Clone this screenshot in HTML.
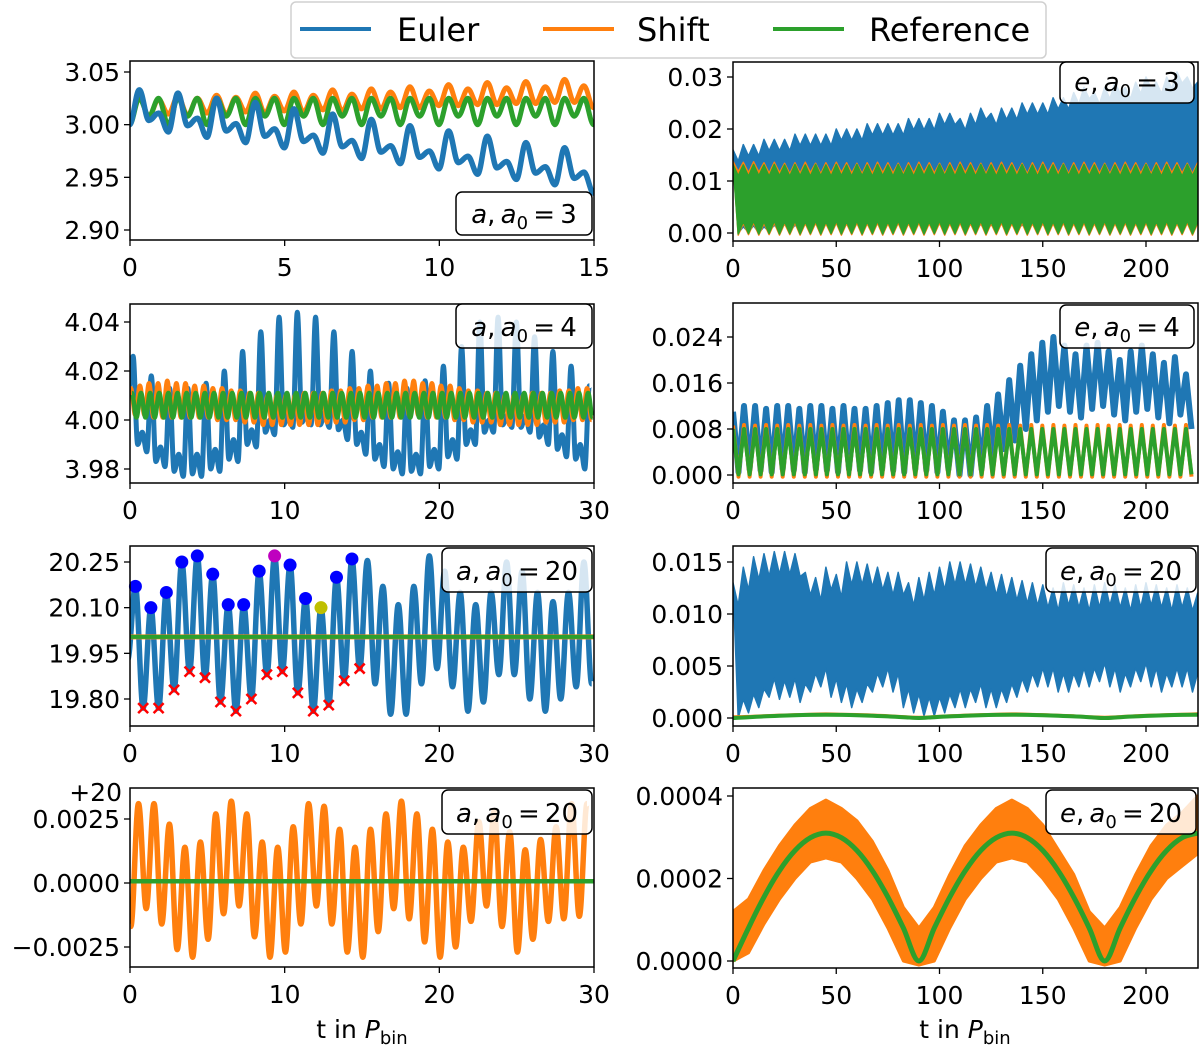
<!DOCTYPE html>
<html><head><meta charset="utf-8">
<style>
html,body{margin:0;padding:0;background:#fff;}
svg text{font-family:"DejaVu Sans","Liberation Sans",sans-serif;fill:#000;}
</style></head>
<body>
<svg id="fig" width="1200" height="1046" viewBox="0 0 1200 1046" xmlns="http://www.w3.org/2000/svg"></svg>
<script>
// ---------- DATA ----------
const C_EULER = '#1f77b4', C_SHIFT = '#ff7f0e', C_REF = '#2ca02c';
const l1Euler = [3.000,3.033,3.004,3.011,2.993,3.030,2.999,3.006,2.988,3.025,2.994,3.001,2.983,3.021,2.989,2.996,2.978,3.015,2.984,2.990,2.973,3.010,2.979,2.985,2.968,3.005,2.974,2.980,2.963,2.999,2.969,2.975,2.958,2.994,2.964,2.970,2.953,2.989,2.959,2.965,2.948,2.983,2.954,2.960,2.943,2.978,2.949,2.955,2.935];
const l1Shift = [3.003,3.026,3.008,3.024,3.010,3.027,3.009,3.025,3.011,3.028,3.010,3.026,3.012,3.030,3.011,3.027,3.013,3.031,3.012,3.028,3.014,3.033,3.013,3.029,3.015,3.034,3.015,3.031,3.016,3.036,3.016,3.032,3.018,3.038,3.018,3.034,3.019,3.040,3.019,3.035,3.020,3.041,3.020,3.036,3.021,3.043,3.021,3.037,3.016];
const l1Ref = [3.000,3.025,3.008,3.025,3.000,3.025,3.008,3.025,3.000,3.025,3.008,3.025,3.000,3.025,3.008,3.025,3.000,3.025,3.008,3.025,3.000,3.025,3.008,3.025,3.000,3.025,3.008,3.025,3.000,3.025,3.008,3.025,3.000,3.025,3.008,3.025,3.000,3.025,3.008,3.025,3.000,3.025,3.008,3.025,3.000,3.025,3.008,3.025,3.000];
const l2Euler = [4.012,4.026,3.990,3.995,3.987,4.018,3.983,3.989,3.981,4.013,3.979,3.986,3.977,4.013,3.978,3.986,3.977,4.015,3.980,3.988,3.979,4.020,3.984,3.992,3.983,4.028,3.990,3.996,3.989,4.036,3.995,4.000,3.994,4.042,3.998,4.003,3.997,4.044,3.999,4.004,3.998,4.042,3.998,4.003,3.997,4.036,3.996,4.000,3.992,4.028,3.990,3.995,3.986,4.020,3.984,3.990,3.981,4.015,3.980,3.987,3.978,4.013,3.979,3.986,3.978,4.016,3.981,3.988,3.980,4.022,3.985,3.992,3.984,4.030,3.990,3.996,3.990,4.040,3.995,4.000,3.995,4.042,3.998,4.002,3.997,4.040,3.997,4.002,3.995,4.034,3.993,3.998,3.990,4.028,3.988,3.994,3.985,4.022,3.984,3.990,3.980,4.014];
const l2ShiftPeaks = [4.013,4.014,4.015,4.015,4.016,4.015,4.015,4.014,4.014,4.013,4.013,4.012,4.012,4.011,4.011,4.010,4.010,4.010,4.010,4.011,4.011,4.011,4.012,4.012,4.013,4.013,4.014,4.014,4.015,4.015,4.016,4.016,4.015,4.015,4.014,4.014,4.013,4.012,4.012,4.011,4.011,4.010,4.010,4.010,4.011,4.011,4.011,4.012,4.012,4.013,4.013];
const l2ShiftTroughs = [4.002,4.002,4.001,4.001,4.001,4.001,4.001,4.001,4.001,4.000,4.000,4.000,3.999,3.999,3.998,3.998,3.998,3.998,3.998,3.998,3.998,3.999,3.999,3.999,4.000,4.000,4.001,4.001,4.001,4.001,4.002,4.002,4.001,4.001,4.001,4.000,4.000,3.999,3.999,3.999,3.998,3.998,3.998,3.998,3.998,3.999,3.999,3.999,4.000,4.000,4.000];
const l2RefPeaks = [4.011,4.011,4.011,4.011,4.011,4.011,4.011,4.011,4.011,4.011,4.011,4.011,4.011,4.011,4.011,4.011,4.011,4.011,4.011,4.011,4.011,4.011,4.011,4.011,4.011,4.011,4.011,4.011,4.011,4.011,4.011,4.011,4.011,4.011,4.011,4.011,4.011,4.011,4.011,4.011,4.011,4.011,4.011,4.011,4.011,4.011,4.011,4.011,4.011,4.011,4.011];
const l2RefTroughs = [4.001,4.001,4.001,4.001,4.001,4.001,4.001,4.001,4.001,4.001,4.001,4.001,4.001,4.001,4.001,4.001,4.001,4.001,4.001,4.001,4.001,4.001,4.001,4.001,4.001,4.001,4.001,4.001,4.001,4.001,4.001,4.001,4.001,4.001,4.001,4.001,4.001,4.001,4.001,4.001,4.001,4.001,4.001,4.001,4.001,4.001,4.001,4.001,4.001,4.001,4.001];
const l3Start = [19.93];
const l3Peaks = [20.17,20.10,20.15,20.25,20.27,20.21,20.11,20.11,20.22,20.27,20.24,20.13,20.10,20.20,20.26,20.255,20.17,20.11,20.17,20.27,20.22,20.15,20.11,20.15,20.25,20.22,20.15,20.12,20.15,20.25];
const l3Troughs = [19.77,19.77,19.83,19.89,19.87,19.79,19.76,19.80,19.88,19.89,19.82,19.76,19.78,19.86,19.90,19.85,19.75,19.75,19.85,19.90,19.84,19.76,19.79,19.88,19.88,19.80,19.76,19.80,19.84,19.85];
const l3Flat = [20.004,20.004];
const l3PeakColors = ['#0000ff','#0000ff','#0000ff','#0000ff','#0000ff','#0000ff','#0000ff','#0000ff','#0000ff','#bf00bf','#0000ff','#0000ff','#bfbf00','#0000ff','#0000ff'];
const l3MarkedTroughs = 15;
const l4Troughs = [-0.0017,-0.0010,-0.0016,-0.0026,-0.0029,-0.0022,-0.0012,-0.0009,-0.0021,-0.0029,-0.0027,-0.0016,-0.0009,-0.0016,-0.0027,-0.0029,-0.0019,-0.0010,-0.0014,-0.0023,-0.0029,-0.0025,-0.0015,-0.0009,-0.0017,-0.0027,-0.0022,-0.0015,-0.0014,-0.0013];
const l4Peaks = [0.0031,0.0031,0.0023,0.0014,0.0016,0.0027,0.0032,0.0027,0.0016,0.0014,0.0022,0.0031,0.0030,0.0021,0.0014,0.0021,0.0027,0.0032,0.0027,0.0021,0.0016,0.0014,0.0024,0.0028,0.0020,0.0013,0.0017,0.0022,0.0031,0.0031];
const l4Ref = [0.00007,0.00007];
const r1EulerTops = [0.016,0.017,0.017,0.018,0.018,0.018,0.019,0.019,0.019,0.019,0.020,0.020,0.020,0.021,0.021,0.021,0.021,0.022,0.022,0.022,0.023,0.023,0.022,0.023,0.024,0.023,0.024,0.024,0.025,0.025,0.025,0.026,0.026,0.027,0.028,0.027,0.028,0.029,0.028,0.029,0.030,0.029,0.030,0.031,0.030,0.029];
const r1EulerBottoms = [0.0000,0.0002,0.0000,0.0003,0.0005,0.0003,0.0008,0.0006,0.0008,0.0010,0.0008,0.0006,0.0008,0.0010,0.0008,0.0006,0.0008,0.0010,0.0008,0.0006,0.0005,0.0008,0.0006,0.0005,0.0004,0.0006,0.0005,0.0004,0.0006,0.0005,0.0008,0.0010,0.0012,0.0010,0.0012,0.0014,0.0012,0.0014,0.0016,0.0014,0.0012,0.0014,0.0016,0.0014,0.0012,0.0014];
const r1ShiftTops = [0.0138,0.0136,0.0137,0.0135,0.0136,0.0134,0.0135,0.0136,0.0134,0.0135,0.0136,0.0135,0.0134,0.0135,0.0136,0.0135,0.0134,0.0135,0.0136,0.0135,0.0134,0.0135,0.0136,0.0135,0.0134,0.0135,0.0136,0.0135,0.0134,0.0135,0.0136,0.0135,0.0134,0.0135,0.0136,0.0135,0.0134,0.0135,0.0136,0.0135,0.0134,0.0135,0.0136,0.0135,0.0134,0.0135];
const r1ShiftBottoms = [-0.0004,-0.0003,-0.0004,-0.0003,-0.0004,-0.0003,-0.0004,-0.0003,-0.0004,-0.0003,-0.0004,-0.0003,-0.0004,-0.0003,-0.0004,-0.0003,-0.0004,-0.0003,-0.0004,-0.0003,-0.0004,-0.0003,-0.0004,-0.0003,-0.0004,-0.0003,-0.0004,-0.0003,-0.0004,-0.0003,-0.0004,-0.0003,-0.0004,-0.0003,-0.0004,-0.0003,-0.0004,-0.0003,-0.0004,-0.0003,-0.0004,-0.0003,-0.0004,-0.0003,-0.0004,-0.0003];
const r1RefTops = [0.0132,0.0131,0.0132,0.0131,0.0132,0.0131,0.0132,0.0131,0.0132,0.0131,0.0132,0.0131,0.0132,0.0131,0.0132,0.0131,0.0132,0.0131,0.0132,0.0131,0.0132,0.0131,0.0132,0.0131,0.0132,0.0131,0.0132,0.0131,0.0132,0.0131,0.0132,0.0131,0.0132,0.0131,0.0132,0.0131,0.0132,0.0131,0.0132,0.0131,0.0132,0.0131,0.0132,0.0131,0.0132,0.0131];
const r1RefBottoms = [-0.0002,-0.0001,-0.0002,-0.0001,-0.0002,-0.0001,-0.0002,-0.0001,-0.0002,-0.0001,-0.0002,-0.0001,-0.0002,-0.0001,-0.0002,-0.0001,-0.0002,-0.0001,-0.0002,-0.0001,-0.0002,-0.0001,-0.0002,-0.0001,-0.0002,-0.0001,-0.0002,-0.0001,-0.0002,-0.0001,-0.0002,-0.0001,-0.0002,-0.0001,-0.0002,-0.0001,-0.0002,-0.0001,-0.0002,-0.0001,-0.0002,-0.0001,-0.0002,-0.0001,-0.0002,-0.0001];
const r2EulerTops = [0.0110,0.0120,0.0120,0.0115,0.0120,0.0120,0.0115,0.0120,0.0120,0.0115,0.0120,0.0115,0.0115,0.0120,0.0125,0.0130,0.0130,0.0125,0.0120,0.0110,0.0095,0.0095,0.0100,0.0120,0.0140,0.0165,0.0190,0.0210,0.0230,0.0240,0.0225,0.0210,0.0225,0.0230,0.0215,0.0200,0.0215,0.0225,0.0210,0.0195,0.0205,0.0175];
const r2EulerBottoms = [0.0005,0.0010,0.0008,0.0005,0.0010,0.0008,0.0005,0.0010,0.0008,0.0005,0.0010,0.0008,0.0005,0.0010,0.0008,0.0005,0.0010,0.0008,0.0005,0.0010,0.0000,0.0000,0.0010,0.0030,0.0045,0.0060,0.0080,0.0095,0.0110,0.0120,0.0110,0.0100,0.0115,0.0120,0.0105,0.0095,0.0110,0.0115,0.0100,0.0090,0.0105,0.0080];
const r2ShiftTops = [0.0086,0.0087,0.0086,0.0087,0.0086,0.0087,0.0086,0.0087,0.0086,0.0087,0.0086,0.0087,0.0086,0.0087,0.0086,0.0087,0.0086,0.0087,0.0086,0.0087,0.0086,0.0087,0.0086,0.0087,0.0086,0.0087,0.0086,0.0087,0.0086,0.0087,0.0086,0.0087,0.0086,0.0087,0.0086,0.0087,0.0086,0.0087,0.0086,0.0087,0.0086,0.0087];
const r2ShiftBottoms = [-0.0003,-0.0003,-0.0003,-0.0003,-0.0003,-0.0003,-0.0003,-0.0003,-0.0003,-0.0003,-0.0003,-0.0003,-0.0003,-0.0003,-0.0003,-0.0003,-0.0003,-0.0003,-0.0003,-0.0003,-0.0003,-0.0003,-0.0003,-0.0003,-0.0003,-0.0003,-0.0003,-0.0003,-0.0003,-0.0003,-0.0003,-0.0003,-0.0003,-0.0003,-0.0003,-0.0003,-0.0003,-0.0003,-0.0003,-0.0003,-0.0003,-0.0003];
const r2RefTops = [0.0080,0.0080,0.0080,0.0080,0.0080,0.0080,0.0080,0.0080,0.0080,0.0080,0.0080,0.0080,0.0080,0.0080,0.0080,0.0080,0.0080,0.0080,0.0080,0.0080,0.0080,0.0080,0.0080,0.0080,0.0080,0.0080,0.0080,0.0080,0.0080,0.0080,0.0080,0.0080,0.0080,0.0080,0.0080,0.0080,0.0080,0.0080,0.0080,0.0080,0.0080,0.0080];
const r2RefBottoms = [0.0001,0.0001,0.0001,0.0001,0.0001,0.0001,0.0001,0.0001,0.0001,0.0001,0.0001,0.0001,0.0001,0.0001,0.0001,0.0001,0.0001,0.0001,0.0001,0.0001,0.0001,0.0001,0.0001,0.0001,0.0001,0.0001,0.0001,0.0001,0.0001,0.0001,0.0001,0.0001,0.0001,0.0001,0.0001,0.0001,0.0001,0.0001,0.0001,0.0001,0.0001,0.0001];
const r3EulerTops = [0.0130,0.0145,0.0155,0.0158,0.0160,0.0160,0.0158,0.0140,0.0135,0.0145,0.0138,0.0150,0.0150,0.0148,0.0145,0.0140,0.0140,0.0130,0.0135,0.0140,0.0145,0.0150,0.0150,0.0148,0.0145,0.0140,0.0138,0.0135,0.0132,0.0130,0.0128,0.0125,0.0130,0.0128,0.0125,0.0128,0.0130,0.0128,0.0125,0.0128,0.0130,0.0128,0.0125,0.0128,0.0125,0.0120];
const r3EulerBottoms = [0.0000,0.0005,0.0010,0.0020,0.0018,0.0020,0.0015,0.0025,0.0030,0.0020,0.0015,0.0010,0.0015,0.0025,0.0030,0.0025,0.0010,0.0005,0.0002,0.0002,0.0005,0.0010,0.0010,0.0015,0.0010,0.0010,0.0015,0.0020,0.0025,0.0030,0.0030,0.0025,0.0025,0.0030,0.0030,0.0035,0.0030,0.0025,0.0030,0.0035,0.0030,0.0025,0.0030,0.0030,0.0025,0.0030];
const eRef20 = [0,0.00008,0.000155,0.000219,0.000268,0.000299,0.00031,0.000299,0.000268,0.000219,0.000155,0.00008,0,0.00008,0.000155,0.000219,0.000268,0.000299,0.00031,0.000299,0.000268,0.000219,0.000155,0.00008,0,0.00008,0.000155,0.000219,0.000268,0.000299,0.00031];
const eShift20Tops = [0.00012,0.00015,0.00022,0.00028,0.00033,0.00037,0.00039,0.00037,0.00034,0.00029,0.00022,0.00013,0.00008,0.00013,0.00021,0.00028,0.00033,0.00037,0.00039,0.00037,0.00033,0.00027,0.00021,0.00012,0.00008,0.00013,0.00021,0.00028,0.00033,0.00036,0.00040];
const eShift20Bottoms = [0.00000,0.00002,0.00009,0.00015,0.00020,0.00024,0.00025,0.00024,0.00020,0.00015,0.00008,0.00000,-0.00001,0.00000,0.00008,0.00015,0.00020,0.00024,0.00025,0.00024,0.00020,0.00015,0.00008,0.00000,-0.00001,0.00000,0.00008,0.00015,0.00020,0.00023,0.00026];
const xTicksL1 = [0,5,10,15];
const xTicksL = [0,10,20,30];
const xTicksR = [0,50,100,150,200];
const yTicksL1 = [3.05,3.00,2.95,2.90];
const yTicksL2 = [4.04,4.02,4.00,3.98];
const yTicksL3 = [20.25,20.10,19.95,19.80];
const yTicksL4 = [0.0025,0.0000,-0.0025];
const yTicksR1 = [0.03,0.02,0.01,0.00];
const yTicksR2 = [0.024,0.016,0.008,0.000];
const yTicksR3 = [0.015,0.010,0.005,0.000];
const yTicksR4 = [0.0004,0.0002,0.0000];

// ---------- DRAWING ----------
const NS = 'http://www.w3.org/2000/svg';
const svg = document.getElementById('fig');
function mk(tag, attrs, parent){
  const e = document.createElementNS(NS, tag);
  for (const k in attrs) e.setAttribute(k, attrs[k]);
  (parent || svg).appendChild(e);
  return e;
}
function lin(a,pa,b,pb){ return v => pa + (v-a)*(pb-pa)/(b-a); }

function makePanel(id, fx0, fx1, fy0, fy1, xs, ys){
  const g = mk('g', {});
  
  
  const defs = mk('clipPath', {id: 'clip-' + id}, g);
  mk('rect', {x: fx0, y: fy0, width: fx1-fx0, height: fy1-fy0}, defs);
  const plot = mk('g', {'clip-path': 'url(#clip-' + id + ')'}, g);
  
  
  return {id, g, plot, fx0, fx1, fy0, fy1, xs, ys};
}
function finishPanel(p, xticks, yticks, fmtY){
  const f = mk('rect', {x: p.fx0, y: p.fy0, width: p.fx1-p.fx0, height: p.fy1-p.fy0, fill: 'none', stroke: '#000', 'stroke-width': 1.5}, p.g);
  
  
  xticks.forEach(t => {
    const x = p.xs(t);
    const tk = mk('line', {x1: x, x2: x, y1: p.fy1, y2: p.fy1 + 6, stroke: '#000', 'stroke-width': 1.3}, p.g);
    
    
    const tl = mk('text', {x: x, y: p.fy1 + 36, 'text-anchor': 'middle', 'font-size': 25}, p.g);
    
    
    tl.textContent = String(t);
  });
  yticks.forEach(v => {
    const y = p.ys(v);
    const tk = mk('line', {x1: p.fx0 - 6, x2: p.fx0, y1: y, y2: y, stroke: '#000', 'stroke-width': 1.3}, p.g);
    
    
    const tl = mk('text', {x: p.fx0 - 10, y: y + 9, 'text-anchor': 'end', 'font-size': 25}, p.g);
    
    
    tl.textContent = fmtY(v);
  });
}
function fmt(d){ return v => { let s = v.toFixed(d); if (v < 0) s = '\u2212' + s.slice(1); if (parseFloat(s.replace('\u2212','-')) === 0) s = (0).toFixed(d); return s; }; }

function extremaPath(p, ts, vs){
  let d = '';
  for (let i = 0; i < ts.length; i++){
    const x = p.xs(ts[i]), y = p.ys(vs[i]);
    if (i === 0){ d += 'M' + x.toFixed(1) + ',' + y.toFixed(1); continue; }
    const px = p.xs(ts[i-1]), py = p.ys(vs[i-1]);
    const dx = (x - px) * 0.36;
    d += 'C' + (px+dx).toFixed(1) + ',' + py.toFixed(1) + ' ' + (x-dx).toFixed(1) + ',' + y.toFixed(1) + ' ' + x.toFixed(1) + ',' + y.toFixed(1);
  }
  return d;
}
function drawExtrema(p, name, ts, vs, color, w){
  const path = mk('path', {d: extremaPath(p, ts, vs), fill: 'none', stroke: color, 'stroke-width': w, 'stroke-linejoin': 'round'}, p.plot);
  
  
}
function drawSmooth(p, name, ts, vs, color, w){
  const pts = ts.map((t,i) => [p.xs(t), p.ys(vs[i])]);
  let d = 'M' + pts[0][0].toFixed(1) + ',' + pts[0][1].toFixed(1);
  for (let i = 0; i < pts.length - 1; i++){
    const p0 = pts[Math.max(i-1,0)], p1 = pts[i], p2 = pts[i+1], p3 = pts[Math.min(i+2, pts.length-1)];
    const c1 = [p1[0] + (p2[0]-p0[0])/6, p1[1] + (p2[1]-p0[1])/6];
    const c2 = [p2[0] - (p3[0]-p1[0])/6, p2[1] - (p3[1]-p1[1])/6];
    d += 'C' + c1[0].toFixed(1) + ',' + c1[1].toFixed(1) + ' ' + c2[0].toFixed(1) + ',' + c2[1].toFixed(1) + ' ' + p2[0].toFixed(1) + ',' + p2[1].toFixed(1);
  }
  const path = mk('path', {d: d, fill: 'none', stroke: color, 'stroke-width': w, 'stroke-linejoin': 'round'}, p.plot);
  
  
}
function uniformTimes(n, t0, dt){ const ts = []; for (let i = 0; i < n; i++) ts.push(t0 + i*dt); return ts; }
function interleave(a, b){ const r = []; for (let i = 0; i < Math.max(a.length, b.length); i++){ if (i < a.length) r.push(a[i]); if (i < b.length) r.push(b[i]); } return r; }
function drawPolyline(p, name, ts, vs, color, w){
  const pts = ts.map((t,i) => p.xs(t).toFixed(1) + ',' + p.ys(vs[i]).toFixed(1)).join(' ');
  const pl = mk('polyline', {points: pts, fill: 'none', stroke: color, 'stroke-width': w, 'stroke-linejoin': 'round'}, p.plot);
  
  
}
function drawBand(p, name, tops, bottoms, dt, depthTop, depthBot, color){
  const up = [], lo = [];
  for (let i = 0; i < tops.length; i++){
    const t = i*dt;
    up.push([p.xs(t), p.ys(tops[i])]);
    up.push([p.xs(t + dt*0.5), p.ys(tops[i] - depthTop)]);
    lo.push([p.xs(t + dt*0.5), p.ys(bottoms[i])]);
    lo.push([p.xs(t + dt), p.ys(bottoms[i] + depthBot)]);
  }
  const pts = up.concat(lo.reverse()).map(q => q[0].toFixed(1) + ',' + q[1].toFixed(1)).join(' ');
  const pg = mk('polygon', {points: pts, fill: color, stroke: color, 'stroke-width': 1.5, 'stroke-linejoin': 'round'}, p.plot);
  
  
}
function drawZigzag(p, name, tops, bottoms, dt, color, w){
  const ts = [], vs = [];
  for (let i = 0; i < tops.length; i++){ ts.push(i*dt); vs.push(tops[i]); ts.push(i*dt + dt/2); vs.push(bottoms[i]); }
  drawPolyline(p, name, ts, vs, color, w);
}
function drawEnvelope(p, name, tops, bottoms, dt, color){
  const up = tops.map((v,i) => [p.xs(i*dt), p.ys(v)]);
  const lo = bottoms.map((v,i) => [p.xs(i*dt), p.ys(v)]).reverse();
  const pts = up.concat(lo).map(q => q[0].toFixed(1) + ',' + q[1].toFixed(1)).join(' ');
  const pg = mk('polygon', {points: pts, fill: color, stroke: color, 'stroke-width': 3, 'stroke-linejoin': 'round'}, p.plot);
  
  
}
function labelBox(p, x, y, w, h, sym, val){
  const g = mk('g', {}, p.g);
  
  
  mk('rect', {x: x, y: y, width: w, height: h, rx: 6, fill: 'rgba(255,255,255,0.82)', stroke: '#000', 'stroke-width': 1.5}, g);
  const t = mk('text', {x: x + w/2, y: y + h - 12, 'text-anchor': 'middle', 'font-size': 26}, g);
  t.innerHTML = '<tspan font-style="italic">' + sym + '</tspan>,\u2009<tspan font-style="italic">a</tspan><tspan font-size="18" dy="6">0</tspan><tspan dy="-6">\u2009=\u2009' + val + '</tspan>';
}

const LX0 = 130, LX1 = 594, RX0 = 733, RX1 = 1198;
const xL1 = lin(0, LX0, 15, LX1), xL = lin(0, LX0, 30, LX1), xR = lin(0, RX0, 200, 1146);

const pL1 = makePanel('a-a0-3', LX0, LX1, 61, 240, xL1, lin(3.05, 72, 2.90, 230));
drawExtrema(pL1, 'shift-line-a0-3', uniformTimes(l1Shift.length, -0.0125, 0.3125), l1Shift, C_SHIFT, 5);
drawExtrema(pL1, 'reference-line-a0-3', uniformTimes(l1Ref.length, -0.0125, 0.3125), l1Ref, C_REF, 5);
drawExtrema(pL1, 'euler-line-a0-3', uniformTimes(l1Euler.length, -0.0125, 0.3125), l1Euler, C_EULER, 5.5);
finishPanel(pL1, xTicksL1, yTicksL1, fmt(2));
labelBox(pL1, 456, 192, 136, 43, 'a', '3');

const pR1 = makePanel('e-a0-3', RX0, RX1, 62, 241, xR, lin(0.03, 77, 0, 233));
drawBand(pR1, 'euler-band-a0-3', r1EulerTops, r1EulerBottoms, 5, 0.0022, 0.0012, C_EULER);
drawBand(pR1, 'shift-band-a0-3', r1ShiftTops, r1ShiftBottoms, 5, 0.0020, 0.0022, C_SHIFT);
drawBand(pR1, 'reference-band-a0-3', r1RefTops, r1RefBottoms, 5, 0.0022, 0.0024, C_REF);
finishPanel(pR1, xTicksR, yTicksR1, fmt(2));
labelBox(pR1, 1060, 62, 134, 41, 'e', '3');

const pL2 = makePanel('a-a0-4', LX0, LX1, 304, 483, xL, lin(4.04, 322, 3.98, 469));
drawExtrema(pL2, 'euler-line-a0-4', uniformTimes(l2Euler.length, -0.095, 0.295), l2Euler, C_EULER, 5);
drawExtrema(pL2, 'shift-line-a0-4', uniformTimes(102, 0.05, 0.295), interleave(l2ShiftPeaks, l2ShiftTroughs), C_SHIFT, 4.5);
drawExtrema(pL2, 'reference-line-a0-4', uniformTimes(102, 0.12, 0.295), interleave(l2RefPeaks, l2RefTroughs), C_REF, 4.5);
finishPanel(pL2, xTicksL, yTicksL2, fmt(2));
labelBox(pL2, 456, 304, 136, 44, 'a', '4');

const pR2 = makePanel('e-a0-4', RX0, RX1, 303, 483, xR, lin(0.024, 337, 0, 475));
drawZigzag(pR2, 'euler-line-e-a0-4', r2EulerTops, r2EulerBottoms, 5.35, C_EULER, 6);
drawZigzag(pR2, 'shift-line-e-a0-4', r2ShiftTops, r2ShiftBottoms, 5.35, C_SHIFT, 4);
drawZigzag(pR2, 'reference-line-e-a0-4', r2RefTops, r2RefBottoms, 5.35, C_REF, 4);
finishPanel(pR2, xTicksR, yTicksR2, fmt(3));
labelBox(pR2, 1060, 305, 134, 43, 'e', '4');

const pL3 = makePanel('a-a0-20', LX0, LX1, 546, 726, xL, lin(20.25, 562, 19.80, 699));
const l3Seq = l3Start.concat(interleave(l3Peaks, l3Troughs));
drawExtrema(pL3, 'euler-line-a0-20', uniformTimes(l3Seq.length, -0.15, 0.5), l3Seq, C_EULER, 5.5);
drawPolyline(pL3, 'shift-line-a0-20', [0, 30], l3Flat, C_SHIFT, 5);
drawPolyline(pL3, 'reference-line-a0-20', [0, 30], l3Flat, C_REF, 4);
for (let i = 0; i < l3PeakColors.length; i++){
  const c = mk('circle', {cx: pL3.xs(0.35 + i), cy: pL3.ys(l3Peaks[i]), r: 6.5, fill: l3PeakColors[i]}, pL3.g);
  
  
}
for (let i = 0; i < l3MarkedTroughs; i++){
  const x = pL3.xs(0.85 + i), y = pL3.ys(l3Troughs[i]);
  const m = mk('path', {d: `M${x-5},${y-5}L${x+5},${y+5}M${x-5},${y+5}L${x+5},${y-5}`, stroke: '#ff0000', 'stroke-width': 2.5, fill: 'none'}, pL3.g);
  
  
}
finishPanel(pL3, xTicksL, yTicksL3, fmt(2));
labelBox(pL3, 442, 548, 150, 44, 'a', '20');

const pR3 = makePanel('e-a0-20', RX0, RX1, 546, 726, xR, lin(0.015, 562, 0, 718));
drawBand(pR3, 'euler-band-e-a0-20', r3EulerTops, r3EulerBottoms, 5, 0.0022, 0.0018, C_EULER);
drawSmooth(pR3, 'shift-line-e-a0-20', uniformTimes(eShift20Tops.length, 0, 7.5), eShift20Tops, C_SHIFT, 3);
drawSmooth(pR3, 'reference-line-e-a0-20', uniformTimes(eRef20.length, 0, 7.5), eRef20, C_REF, 4);
finishPanel(pR3, xTicksR, yTicksR3, fmt(3));
labelBox(pR3, 1046, 548, 150, 44, 'e', '20');

const pL4 = makePanel('a-minus-20', LX0, LX1, 788, 967, xL, lin(0.0025, 819, -0.0025, 947));
const l4Seq = interleave(l4Troughs, l4Peaks);
drawExtrema(pL4, 'shift-line-a-minus-20', uniformTimes(l4Seq.length, 0.05, 0.5), l4Seq, C_SHIFT, 5.5);
drawPolyline(pL4, 'reference-line-a-minus-20', [0, 30], l4Ref, C_REF, 4.5);
finishPanel(pL4, xTicksL, yTicksL4, fmt(4));
labelBox(pL4, 442, 790, 150, 44, 'a', '20');
const off = mk('text', {x: 122, y: 801, 'text-anchor': 'end', 'font-size': 25});


off.textContent = '+20';

const pR4 = makePanel('e-a0-20-zoom', RX0, RX1, 788, 968, xR, lin(0.0004, 796, 0, 961));
drawEnvelope(pR4, 'shift-band-e-a0-20', eShift20Tops, eShift20Bottoms, 7.5, C_SHIFT);
drawSmooth(pR4, 'reference-line-e-a0-20-zoom', uniformTimes(eRef20.length, 0, 7.5), eRef20, C_REF, 5);
finishPanel(pR4, xTicksR, yTicksR4, fmt(4));
labelBox(pR4, 1046, 790, 150, 44, 'e', '20');

[[362,'x-axis-title-left'],[965,'x-axis-title-right']].forEach(a => {
  const t = mk('text', {x: a[0], y: 1038, 'text-anchor': 'middle', 'font-size': 25});
  
  
  t.innerHTML = 't in <tspan font-style="italic">P</tspan><tspan font-size="18" dy="6">bin</tspan>';
});

const lg = mk('g', {});


mk('rect', {x: 291, y: 2, width: 755, height: 56, rx: 5, fill: '#fff', stroke: '#d0d0d0', 'stroke-width': 1.5}, lg);
[[300,397,C_EULER,'Euler'],[543,637,C_SHIFT,'Shift'],[773,869,C_REF,'Reference']].forEach(e => {
  const it = mk('g', {}, lg);
  
  
  mk('line', {x1: e[0], x2: e[0] + 71, y1: 29, y2: 29, stroke: e[2], 'stroke-width': 4}, it);
  const t = mk('text', {x: e[1], y: 41, 'font-size': 32}, it);
  t.textContent = e[3];
});
</script>
</body></html>
